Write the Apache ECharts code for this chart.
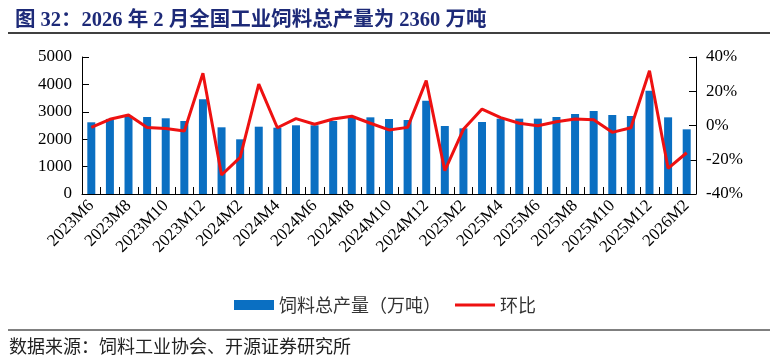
<!DOCTYPE html>
<html>
<head>
<meta charset="utf-8">
<script src="https://cdn.jsdelivr.net/npm/echarts@6/dist/echarts.min.js"></script>
<style>
html,body{margin:0;padding:0;background:#fff;}
#chart{width:770px;height:360px;}
</style>
</head>
<body>
<div id="chart"></div>
<script>
const categories = [
  '2023M6','2023M7','2023M8','2023M9','2023M10','2023M11','2023M12',
  '2024M1','2024M2','2024M3','2024M4','2024M5','2024M6','2024M7','2024M8','2024M9','2024M10','2024M11','2024M12',
  '2025M1','2025M2','2025M3','2025M4','2025M5','2025M6','2025M7','2025M8','2025M9','2025M10','2025M11','2025M12',
  '2026M1','2026M2'
];
const production = [
  2617, 2740, 2850, 2810, 2763, 2664, 3456,
  2434, 1996, 2456, 2420, 2507, 2507, 2664, 2798, 2798, 2737, 2700, 3405,
  2482, 2397, 2628, 2749, 2749, 2749, 2810, 2920, 3029, 2883, 2847, 3770,
  2798, 2360
];
const mom = [
  -1.1, 3.6, 6.1, -1.1, -1.8, -3.2, 30.5,
  -28.9, -18.6, 24.2, -1.3, 4.0, 0.7, 3.8, 5.4, 1.3, -2.6, -1.1, 26.2,
  -26.4, -2.2, 9.6, 4.6, 1.3, -0.1, 2.2, 3.8, 3.4, -4.0, -1.3, 32.0,
  -25.0, -15.9
];
const leftTicks = ['0', '1000', '2000', '3000', '4000', '5000'];
const rightTicks = ['-40%', '-20%', '0%', '20%', '40%'];

const serif = '"Liberation Serif", "Times New Roman", serif';
const cjk = '"Noto Sans CJK SC", sans-serif';

const chart = echarts.init(document.getElementById('chart'), null, {renderer: 'canvas'});
chart.setOption({
  animation: false,
  backgroundColor: '#fff',
  title: {
    text: '图 32：2026 年 2 月全国工业饲料总产量为 2360 万吨',
    left: 10, top: 5,
    textStyle: {
      fontFamily: '"Liberation Serif", "Noto Sans CJK SC", serif',
      fontWeight: 'bold', fontSize: 20.5, color: '#1d2a78'
    }
  },
  graphic: [
    {type: 'line', shape: {x1: 8, y1: 33, x2: 770, y2: 33}, style: {stroke: '#000', lineWidth: 1.5}},
    {type: 'line', shape: {x1: 8, y1: 330, x2: 770, y2: 330}, style: {stroke: '#000', lineWidth: 1}},
    {type: 'text', left: 9, top: 337,
      style: {text: '数据来源：饲料工业协会、开源证券研究所', font: '18px "Noto Sans CJK SC"', fill: '#222'}}
  ],
  legend: {
    bottom: 41, left: 'center',
    itemGap: 14, itemWidth: 40, itemHeight: 10,
    textStyle: {fontFamily: cjk, fontSize: 18, color: '#333'},
    data: [
      {name: '饲料总产量（万吨）', icon: 'rect'},
      {name: '环比', icon: 'path://M0,0 L40,0 L40,3 L0,3 Z'}
    ]
  },
  grid: {left: 82, right: 74, top: 57, bottom: 166},
  xAxis: {
    type: 'category',
    data: categories,
    axisLine: {lineStyle: {color: '#000', width: 1}},
    axisTick: {show: true, inside: true, length: 7, alignWithLabel: false, interval: 0, lineStyle: {color: '#000'}},
    axisLabel: {
      interval: 1, rotate: 45, margin: 9,
      fontFamily: serif, fontSize: 17, color: '#000'
    }
  },
  yAxis: [
    {
      type: 'value', min: 0, max: 5000, interval: 1000,
      axisLine: {show: true, lineStyle: {color: '#000'}},
      axisTick: {show: true, inside: true, length: 7, lineStyle: {color: '#000'}},
      splitLine: {show: false},
      axisLabel: {fontFamily: serif, fontSize: 17, color: '#000', margin: 10,
        formatter: v => leftTicks[Math.round(v / 1000)]}
    },
    {
      type: 'value', min: -40, max: 40, interval: 20,
      axisLine: {show: true, lineStyle: {color: '#000'}},
      axisTick: {show: true, inside: true, length: 7, lineStyle: {color: '#000'}},
      splitLine: {show: false},
      axisLabel: {fontFamily: serif, fontSize: 17, color: '#000', margin: 10,
        formatter: v => rightTicks[Math.round((v + 40) / 20)]}
    }
  ],
  series: [
    {
      name: '饲料总产量（万吨）', type: 'bar', data: production,
      yAxisIndex: 0, barWidth: 8,
      itemStyle: {color: '#0a6fc2'}
    },
    {
      name: '环比', type: 'line', data: mom,
      yAxisIndex: 1, symbol: 'none', smooth: false,
      lineStyle: {color: '#ee1111', width: 3},
      itemStyle: {color: '#ee1111'}
    }
  ]
});
</script>
</body>
</html>
